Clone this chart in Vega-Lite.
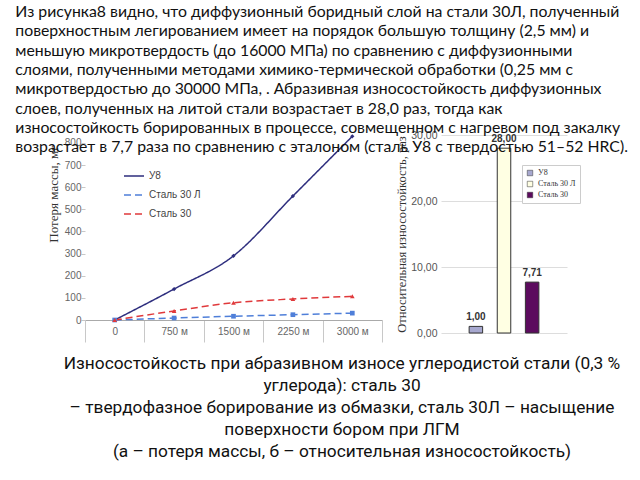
{
  "$schema": "https://vega.github.io/schema/vega-lite/v6.json",
  "background": "white",
  "padding": {"left": 15, "top": 4, "right": 0, "bottom": 0},
  "config": {"view": {"stroke": null}, "font": "Liberation Sans"},
  "title": {
    "text": [
      "Из рисунка8 видно, что диффузионный боридный слой на стали 30Л, полученный",
      "поверхностным легированием имеет на порядок большую толщину (2,5 мм) и",
      "меньшую микротвердость (до 16000 МПа) по сравнению с диффузионными",
      "слоями, полученными методами химико-термической обработки (0,25 мм с",
      "микротвердостью до 30000 МПа, . Абразивная износостойкость диффузионных",
      "слоев, полученных на литой стали возрастает в 28,0 раз, тогда как",
      "износостойкость борированных в процессе, совмещенном с нагревом под закалку",
      "возрастает в 7,7 раза по сравнению с эталоном (сталь У8 с твердостью 51–52 HRC)."
    ],
    "anchor": "start",
    "frame": "bounds",
    "font": "Lato",
    "fontSize": 15.8,
    "fontWeight": "normal",
    "color": "#111",
    "lineHeight": 19.3,
    "offset": -26,
    "dx": -32
  },
  "spacing": 10,
  "resolve": {
    "scale": {"color": "independent", "fill": "independent", "shape": "independent", "strokeDash": "independent"},
    "legend": {"color": "independent", "fill": "independent", "shape": "independent", "strokeDash": "independent"}
  },
  "vconcat": [
    {
      "spacing": 12,
      "resolve": {
        "scale": {"color": "independent", "fill": "independent", "shape": "independent", "strokeDash": "independent"},
        "legend": {"color": "independent", "fill": "independent", "shape": "independent", "strokeDash": "independent"}
      },
      "hconcat": [
        {
          "width": 297,
          "height": 185,
          "data": {
            "values": [
              {"dist": "0", "series": "У8", "loss": 0},
              {"dist": "750 м", "series": "У8", "loss": 140},
              {"dist": "1500 м", "series": "У8", "loss": 290},
              {"dist": "2250 м", "series": "У8", "loss": 560},
              {"dist": "3000 м", "series": "У8", "loss": 830},
              {"dist": "0", "series": "Сталь 30 Л", "loss": 0},
              {"dist": "750 м", "series": "Сталь 30 Л", "loss": 9},
              {"dist": "1500 м", "series": "Сталь 30 Л", "loss": 17},
              {"dist": "2250 м", "series": "Сталь 30 Л", "loss": 24},
              {"dist": "3000 м", "series": "Сталь 30 Л", "loss": 31},
              {"dist": "0", "series": "Сталь 30", "loss": 0},
              {"dist": "750 м", "series": "Сталь 30", "loss": 41},
              {"dist": "1500 м", "series": "Сталь 30", "loss": 78},
              {"dist": "2250 м", "series": "Сталь 30", "loss": 95},
              {"dist": "3000 м", "series": "Сталь 30", "loss": 107}
            ]
          },
          "encoding": {
            "x": {
              "field": "dist", "type": "ordinal",
              "sort": ["0", "750 м", "1500 м", "2250 м", "3000 м"],
              "scale": {"type": "band", "paddingInner": 0, "paddingOuter": 0},
              "axis": {"title": null, "labelAngle": 0, "tickBand": "extent", "tickSize": 22, "labelPadding": -16, "domainColor": "#aaa", "tickColor": "#c8c8c8", "labelColor": "#666", "labelFontSize": 10}
            },
            "y": {
              "field": "loss", "type": "quantitative",
              "scale": {"domain": [0, 836], "nice": false},
              "axis": {"title": "Потеря массы, мг", "titleFont": "Liberation Serif", "titleFontSize": 13, "titleFontWeight": "normal", "titleColor": "#333", "titleAnchor": "end", "titleY": 10, "titlePadding": 4, "values": [0, 100, 200, 300, 400, 500, 600, 700, 800], "domain": false, "grid": false, "tickSize": 4, "tickColor": "#c8c8c8", "labelColor": "#666", "labelFontSize": 10, "labelPadding": 0}
            },
            "color": {
              "field": "series", "type": "nominal",
              "scale": {"domain": ["У8", "Сталь 30 Л", "Сталь 30"], "range": ["#2e2e7e", "#4f7fd9", "#e0393b"]},
              "legend": {"orient": "none", "legendX": 38, "legendY": 30, "title": null, "symbolType": "stroke", "symbolSize": 400, "symbolStrokeWidth": 1.5, "labelFont": "Liberation Sans", "labelFontSize": 10, "labelColor": "#444", "rowPadding": 3}
            }
          },
          "layer": [
            {
              "mark": {"type": "line", "interpolate": "monotone", "strokeWidth": 1.5},
              "encoding": {
                "strokeDash": {"field": "series", "type": "nominal", "scale": {"domain": ["У8", "Сталь 30 Л", "Сталь 30"], "range": [[1, 0], [7, 4], [7, 4]]}}
              }
            },
            {
              "transform": [{"filter": "datum.series === 'У8'"}],
              "mark": {"type": "point", "filled": true, "size": 18, "opacity": 1, "shape": "diamond"}
            },
            {
              "transform": [{"filter": "datum.series === 'Сталь 30 Л'"}],
              "mark": {"type": "point", "filled": true, "size": 22, "opacity": 1, "shape": "square"}
            },
            {
              "transform": [{"filter": "datum.series === 'Сталь 30'"}],
              "mark": {"type": "point", "filled": true, "size": 22, "opacity": 1, "shape": "triangle-up"}
            }
          ]
        },
        {
          "width": 126,
          "height": 198,
          "data": {
            "values": [
              {"steel": "У8", "value": 1, "label": "1,00"},
              {"steel": "Сталь 30 Л", "value": 28, "label": "28,00"},
              {"steel": "Сталь 30", "value": 7.71, "label": "7,71"}
            ]
          },
          "encoding": {
            "x": {"field": "steel", "type": "nominal", "sort": null, "scale": {"paddingInner": 0.52, "paddingOuter": 1.28}, "axis": null}
          },
          "layer": [
            {
              "mark": {"type": "bar", "stroke": "#333", "strokeWidth": 1},
              "encoding": {
                "y": {
                  "field": "value", "type": "quantitative",
                  "scale": {"domain": [0, 30], "nice": false},
                  "axis": {"title": "Относительная износостойкость, раз", "titleFont": "Liberation Serif", "titleFontSize": 12.5, "titleFontWeight": "normal", "titleColor": "#333", "titlePadding": 2, "values": [0, 5, 10, 15, 20, 25, 30], "labelExpr": "replace(format(datum.value, '.2f'), '.', ',')", "domain": false, "ticks": false, "grid": true, "gridColor": "#dddddd", "labelColor": "#555", "labelFontSize": 10.5, "labelPadding": 4}
                },
                "fill": {
                  "field": "steel", "type": "nominal", "sort": null,
                  "scale": {"domain": ["У8", "Сталь 30 Л", "Сталь 30"], "range": ["#a7a8cf", "#ffffe3", "#5c0b5e"]},
                  "legend": {"orient": "none", "legendX": 81, "legendY": 30, "title": null, "symbolType": "square", "symbolSize": 30, "symbolStrokeColor": "#333", "symbolStrokeWidth": 0.5, "labelFont": "Liberation Serif", "labelFontSize": 8, "labelColor": "#333", "rowPadding": 3, "strokeColor": "#cccccc", "fillColor": "white", "padding": 4}
                }
              }
            },
            {
              "mark": {"type": "text", "dy": -9, "fontWeight": "bold", "fontSize": 10, "font": "Liberation Sans", "color": "#333"},
              "encoding": {
                "y": {"field": "value", "type": "quantitative"},
                "text": {"field": "label"}
              }
            }
          ]
        }
      ]
    },
    {
      "width": 514,
      "height": 110,
      "data": {
        "values": [
          {"i": 1, "t": "Износостойкость при абразивном износе углеродистой стали (0,3 %"},
          {"i": 2, "t": "углерода): сталь 30"},
          {"i": 3, "t": "– твердофазное борирование из обмазки, сталь 30Л – насыщение"},
          {"i": 4, "t": "поверхности бором при ЛГМ"},
          {"i": 5, "t": "(а – потеря массы, б – относительная износостойкость)"}
        ]
      },
      "mark": {"type": "text", "font": "Roboto", "fontSize": 17.3, "color": "#111"},
      "encoding": {
        "y": {"field": "i", "type": "ordinal", "axis": null},
        "text": {"field": "t"}
      }
    }
  ]
}
